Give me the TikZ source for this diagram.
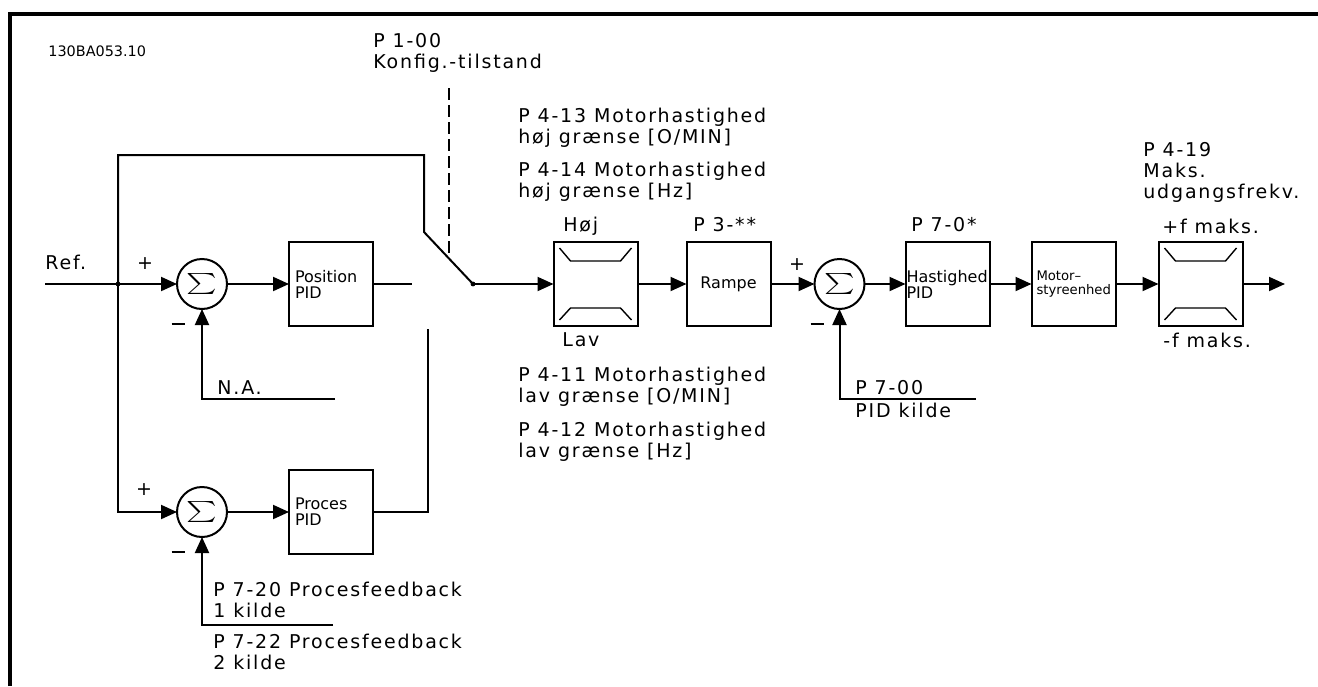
\documentclass[tikz,border=0pt]{standalone}
\usepackage{fontspec}
\setmainfont{DejaVu Sans}
\newfontfamily\lblfont[LetterSpace=9.5]{DejaVu Sans}
\usetikzlibrary{arrows.meta,positioning}

\newcommand{\sumsign}{\scalebox{1.45}[1.05]{$\textstyle\sum$}}
\newcommand{\minussign}{\rule{6.5pt}{1.4pt}}
\newcommand{\limsign}[1]{%
  \draw[line width=0.7pt] ([shift={(6,6)}]#1.north west) -- ([shift={(17,19)}]#1.north west)
    -- ([shift={(-17,19)}]#1.north east) -- ([shift={(-6,6)}]#1.north east);
  \draw[line width=0.7pt] ([shift={(6,-6)}]#1.south west) -- ([shift={(17,-18)}]#1.south west)
    -- ([shift={(-17,-18)}]#1.south east) -- ([shift={(-6,-6)}]#1.south east);}

\begin{document}
\begin{tikzpicture}[
    x=0.5pt, y=-0.5pt,
    box/.style={draw, line width=1pt, minimum width=42pt, minimum height=42pt, inner sep=0pt, outer sep=0pt, font=\fontsize{8}{8}\selectfont},
    sumnode/.style={draw, circle, line width=1pt, minimum size=25pt, inner sep=0pt, outer sep=0pt},
    lbl/.style={anchor=base west, inner sep=0pt, align=left, font=\lblfont\fontsize{9.5}{10.5}\selectfont},
    sign/.style={inner sep=0pt, font=\fontsize{9.5}{10.5}\selectfont},
    wire/.style={line width=1pt},
    arrow/.style={wire, -{Triangle[length=8pt,width=7pt]}},
    switchline/.style={line width=0.8pt, dash pattern=on 6pt off 2.5pt}
]
    \useasboundingbox (0,0) rectangle (1318,686);
    \fill[white] (0,0) rectangle (1318,686);
    \draw[line width=1.8pt] (10,686) |- (1318,14);

    \node[anchor=base west, inner sep=0pt, font=\fontsize{7.2}{8}\selectfont] (drawno) at (48,56) {130BA053.10};

    % position / process branch
    \node[sumnode] (sumpos) at (202,284) {\sumsign};
    \node[box, right=31pt of sumpos, align=left, text width=36pt] (pospid) {Position\\PID};
    \node[sumnode] (sumproc) at (202,512) {\sumsign};
    \node[box, right=31pt of sumproc, align=left, text width=36pt] (procpid) {Proces\\PID};

    % speed chain
    \node[box] (limspeed) at (595.5,284) {};
    \node[box, right=24.5pt of limspeed] (ramp) {Rampe};
    \node[sumnode, right=22pt of ramp] (sumspeed) {\sumsign};
    \node[box, right=20.5pt of sumspeed, align=left, text width=41pt] (speedpid) {Hastighed\\PID};
    \node[box, right=21pt of speedpid, align=left, text width=37pt, font=\fontsize{6.6}{7}\selectfont] (motorctl) {Motor–\\styreenhed};
    \node[box, right=21.5pt of motorctl] (limfreq) {};
    \limsign{limspeed}
    \limsign{limfreq}

    \coordinate (ref) at (45,284);
    \coordinate (split) at (118,284);
    \coordinate (bend) at (424,232);
    \coordinate (pivot) at (473,284);
    \coordinate (posend) at (412,284);
    \coordinate (procend) at (428,329);
    \coordinate (cfg) at (449,88);
    \coordinate (cfgend) at (449,258);
    \coordinate (na) at (335,399);
    \coordinate (pfb) at (333,625);
    \coordinate (pidsrc) at (976,399);
    \coordinate (out) at (1285,284);

    % labels (base = last line)
    \node[lbl] (reflbl) at (45,269) {Ref.};
    \node[sign] (pluspos) at (145,264) {+};
    \node[sign] (minuspos) at (178,324) {\minussign};
    \node[sign] (plusproc) at (144,490) {+};
    \node[sign] (minusproc) at (178,552) {\minussign};
    \node[sign] (plusspeed) at (797,265) {+};
    \node[sign] (minusspeed) at (817,324) {\minussign};
    \node[lbl] (nalbl) at (217,394) {N.A.};
    \node[lbl] (fb1lbl) at (213,617) {P 7-20 Procesfeedback\\1 kilde};
    \node[lbl] (fb2lbl) at (213,669) {P 7-22 Procesfeedback\\2 kilde};
    \node[lbl] (cfglbl) at (373,68) {P 1-00\\Konfig.-tilstand};
    \node[lbl] (hirpm) at (518,143) {P 4-13 Motorhastighed\\høj grænse [O/MIN]};
    \node[lbl] (hihz) at (518,197) {P 4-14 Motorhastighed\\høj grænse [Hz]};
    \node[lbl] (lorpm) at (518,402) {P 4-11 Motorhastighed\\lav grænse [O/MIN]};
    \node[lbl] (lohz) at (518,457) {P 4-12 Motorhastighed\\lav grænse [Hz]};
    \node[lbl] (hilbl) at (563,231) {Høj};
    \node[lbl] (lolbl) at (562,346) {Lav};
    \node[lbl] (ramplbl) at (693,231) {P 3-**};
    \node[lbl] (speedlbl) at (911,231) {P 7-0*};
    \node[lbl] (src1) at (855,394) {P 7-00};
    \node[lbl] (src2) at (855,417) {PID kilde};
    \node[lbl] (maxlbl) at (1143,198) {P 4-19\\Maks.\\udgangsfrekv.};
    \node[lbl] (fmax) at (1162,233) {+f maks.};
    \node[lbl] (fmin) at (1163,347) {-f maks.};

    % connectors
    \draw[arrow] (ref) -- (sumpos);
    \fill (split) circle[radius=1.2pt];
    \draw[wire] (split) -- ++(0,-129) -| (bend) -- (pivot);
    \draw[arrow] (split) |- (sumproc);
    \draw[arrow] (sumpos) -- (pospid);
    \draw[arrow] (sumproc) -- (procpid);
    \draw[wire] (pospid) -- (posend);
    \draw[wire] (procpid) -| (procend);
    \draw[switchline] (cfg) -- (cfgend);
    \fill (pivot) circle[radius=1.2pt];
    \draw[arrow] (pivot) -- (limspeed);
    \draw[arrow] (limspeed) -- (ramp);
    \draw[arrow] (ramp) -- (sumspeed);
    \draw[arrow] (sumspeed) -- (speedpid);
    \draw[arrow] (speedpid) -- (motorctl);
    \draw[arrow] (motorctl) -- (limfreq);
    \draw[arrow] (limfreq) -- (out);
    \draw[arrow] (na) -| (sumpos);
    \draw[arrow] (pfb) -| (sumproc);
    \draw[arrow] (pidsrc) -| (sumspeed);
\end{tikzpicture}
\end{document}
